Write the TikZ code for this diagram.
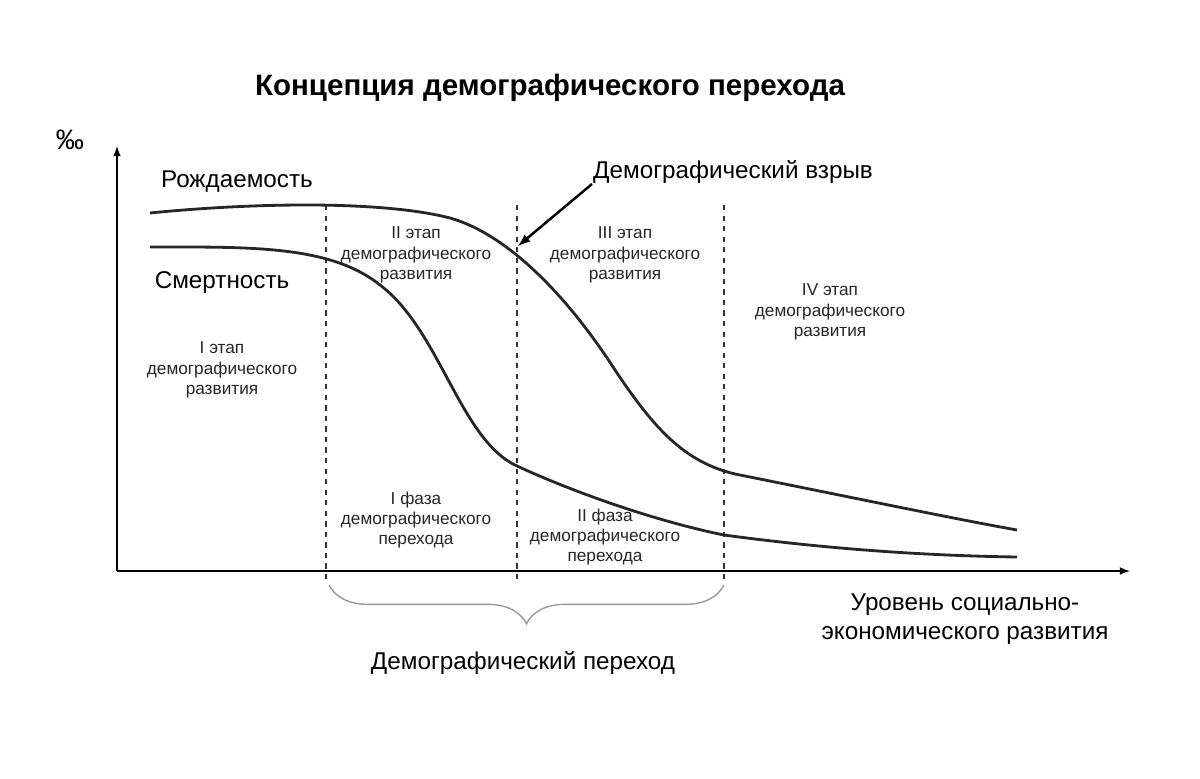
\documentclass[tikz,border=0pt]{standalone}
\usepackage{fontspec}
\setmainfont{Liberation Sans}
\usetikzlibrary{arrows,positioning,decorations.pathreplacing}
\begin{document}
\begin{tikzpicture}[x=0.02cm,y=-0.02cm,
    stage/.style={align=center,font=\fontsize{9.8}{11.5}\selectfont,text=black!85},
    lbl/.style={font=\fontsize{13.8}{16.5}\selectfont},
    curve/.style={line width=1.6pt,black!85},
    stageline/.style={dashed,line width=0.8pt,black!80}]

\useasboundingbox (0,0) rectangle (1200,778);

% axes
\coordinate (o) at (117,571);
\coordinate (ytop) at (117,146);
\coordinate (xend) at (1130,571);
\draw[-latex,line width=1pt] (o) -- (ytop);
\draw[-latex,line width=1pt] (o) -- (xend);

\node[font=\fontsize{16.8}{20}\selectfont\bfseries] (title) at (550,88) {Концепция демографического перехода};
\node[lbl,font=\fontsize{16}{18}\selectfont] (permil) at (70,140) {‰};

% stage borders
\foreach \xx/\yy in {326/205, 517/205, 724/205}
    \draw[stageline] (\xx,\yy) -- (\xx,580);

% curves
\draw[curve] (150,213) .. controls (250,203) and (380,200) .. (450,218)
    .. controls (510,235) and (570,300) .. (615,370)
    .. controls (655,430) and (685,462) .. (735,474)
    .. controls (850,497) and (950,518) .. (1017,530);
\draw[curve] (150,247) .. controls (250,247) and (330,245) .. (380,285)
    .. controls (440,330) and (460,440) .. (517,466)
    .. controls (580,495) and (660,522) .. (724,535)
    .. controls (850,552) and (950,556) .. (1017,557);

% labels
\node[lbl] (birth) at (237,182) {Рождаемость};
\node[lbl] (death) at (222,283) {Смертность};
\node[lbl] (boom) at (733,172) {Демографический взрыв};
\coordinate (boomtip) at (518,246);
\draw[-latex,line width=1.4pt] (592,184) -- (boomtip);

\node[stage] (st1) at (222,370) {I этап\\демографического\\развития};
\node[stage] (st2) at (416,255) {II этап\\демографического\\развития};
\node[stage] (st3) at (625,255) {III этап\\демографического\\развития};
\node[stage] (st4) at (830,312) {IV этап\\демографического\\развития};
\node[stage] (ph1) at (416,520) {I фаза\\демографического\\перехода};
\node[stage] (ph2) at (605,537) {II фаза\\демографического\\перехода};

\node[lbl,align=center] (xlabel) at (965,619) {Уровень социально-\\экономического развития};

% transition brace
\coordinate (bl) at (329,585);
\coordinate (br) at (724,585);
\draw[black!40,line width=0.8pt,decorate,decoration={brace,mirror,amplitude=22pt}] (bl) -- (br);
\node[lbl] (trans) at (523,663) {Демографический переход};
\end{tikzpicture}
\end{document}
